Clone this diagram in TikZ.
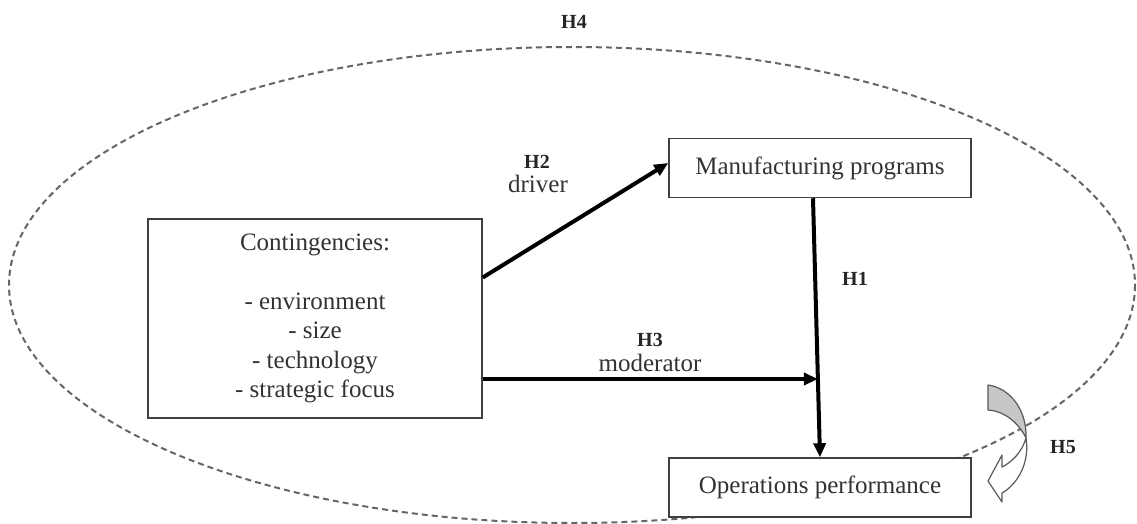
\documentclass[tikz,border=0pt]{standalone}
\usepackage{fontspec}
\setmainfont{Liberation Serif}
\usetikzlibrary{arrows.meta,calc}
\tikzset{
  box/.style={draw=black!75, line width=1.5pt, fill=white, text=black!80, align=center, inner sep=0pt,
              font=\fontsize{25}{29.5}\selectfont},
  arr/.style={draw=black, line width=4pt, -{Triangle[length=14pt,width=12pt]}},
  hlab/.style={font=\fontsize{20}{22}\selectfont\bfseries, text=black!85, inner sep=0pt},
  tlab/.style={font=\fontsize{25}{28}\selectfont, text=black!80, inner sep=0pt},
  oval/.style={draw=black!60, line width=2pt, dash pattern=on 6pt off 4pt},
  twist/.style={draw=black!65, line width=1.2pt, line join=round}
}
\begin{document}
\begin{tikzpicture}[x=1pt,y=-1pt]
\useasboundingbox (0,0) rectangle (1137,524);
\fill[white] (0,0) rectangle (1137,524);
% dashed ellipse
\draw[oval] (572,285) ellipse [x radius=563, y radius=238];
% boxes
\node[box, minimum width=334pt, minimum height=199pt] (cont) at (315,318.5)
  {Contingencies:\\[29.5pt]- environment\\- size\\- technology\\- strategic focus};
\node[box, minimum width=302pt, minimum height=59pt] (mp) at (820,168) {Manufacturing programs};
\node[box, minimum width=302pt, minimum height=59pt] (op) at (820,487.5) {Operations performance};
% arrows
\coordinate (h1s) at ([xshift=-7pt]mp.south);
\coordinate (h1e) at (op.north);
\draw[arr] (h1s) -- (h1e);
\draw[arr] ([yshift=41pt]cont.east) -- ([yshift=5pt]mp.west);
\coordinate (h3s) at ([yshift=-60.5pt]cont.east);
\coordinate (h3e) at ($(h1s)!0.696!(h1e)$);
\draw[arr] (h3s) -- (h3s -| h3e);
% labels
\node[hlab] (lh4) at (574,22) {H4};
\node[hlab] (lh2) at (537,162) {H2};
\node[tlab] (ldriver) at (538,184) {driver};
\node[hlab] (lh1) at (855,279) {H1};
\node[hlab] (lh3) at (650,340) {H3};
\node[tlab] (lmod) at (650,363) {moderator};
\node[hlab] (lh5) at (1063,447) {H5};
% twisted curved arrow
\filldraw[twist, fill=black!22]
  (988,385) .. controls (1010,388) and (1027,410) .. (1026,438)
  .. controls (1018,422) and (1004,411) .. (988,410) -- cycle;
\filldraw[twist, fill=white]
  (1026,438) .. controls (1030,462) and (1018,484) .. (1002,493)
  -- (1002,502) -- (988,481) -- (1002,455) -- (1002,467)
  .. controls (1012,462) and (1022,452) .. (1026,438) -- cycle;
\end{tikzpicture}
\end{document}
